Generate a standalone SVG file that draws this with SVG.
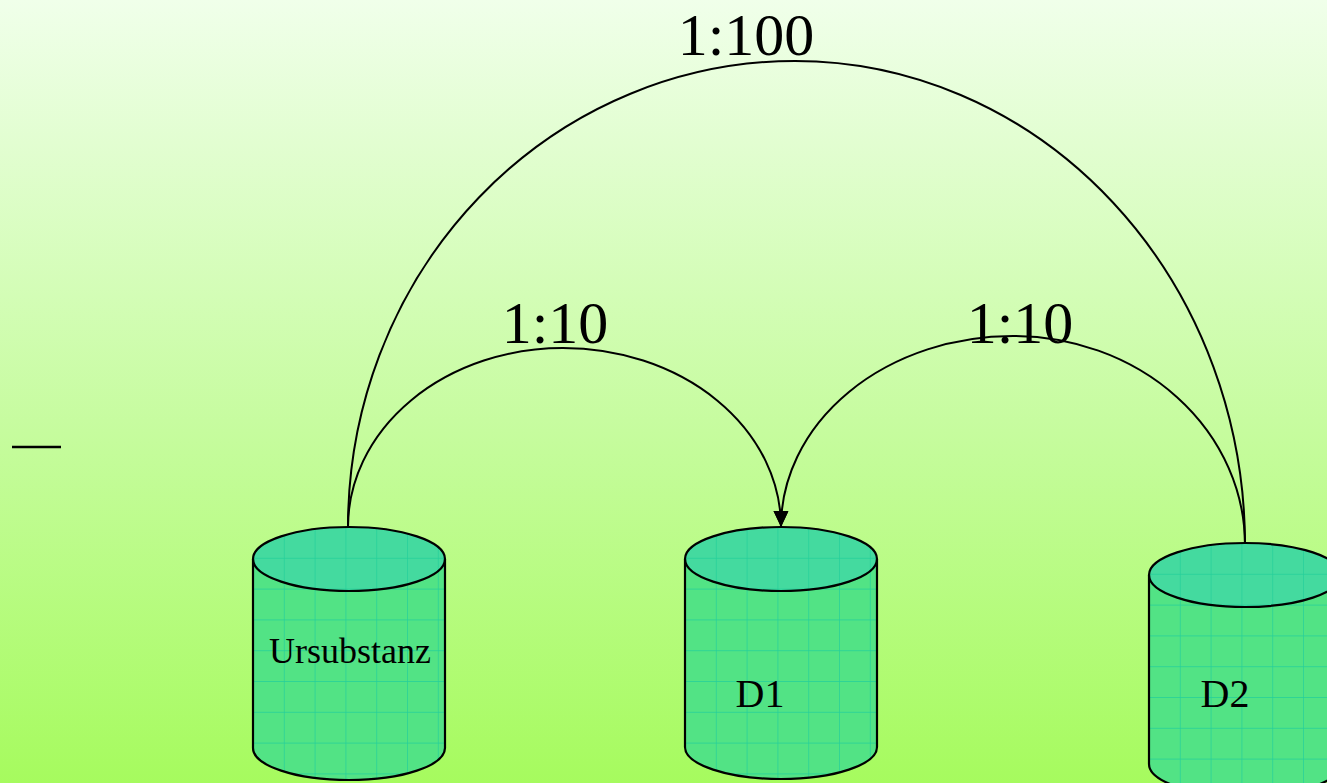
<svg xmlns="http://www.w3.org/2000/svg" width="1327" height="783" viewBox="0 0 1327 783">
<defs>
<linearGradient id="bg" x1="0" y1="0" x2="0" y2="1">
<stop offset="0" stop-color="#f0ffea"/>
<stop offset="0.55" stop-color="#c6fc9e"/>
<stop offset="1" stop-color="#a6fb5e"/>
</linearGradient>
<pattern id="grid" patternUnits="userSpaceOnUse" width="30.8" height="30.8">
<path d="M0,0 V30.8 M0,0 H30.8" fill="none" stroke="#24cf9a" stroke-width="1.4"/>
</pattern>
<marker id="arr" markerUnits="userSpaceOnUse" markerWidth="18" markerHeight="16" refX="16" refY="7.5" orient="auto">
<path d="M0,0 L16,7.5 L0,15 Z" fill="#000"/>
</marker>
</defs>
<style>
.body{fill:#52e385;stroke:none}
.top{fill:#44da9f;stroke:none}
.out{fill:none;stroke:#000;stroke-width:2.2}
.gridf{fill:url(#grid);stroke:none}
.lbl{fill:#000;text-anchor:middle}
.arc{fill:none;stroke:#000;stroke-width:2}
</style>
<rect x="0" y="0" width="1327" height="783" fill="url(#bg)"/>
<line x1="12" y1="447" x2="61" y2="447" stroke="#000" stroke-width="2.5"/>

<g id="connectors">
<path class="arc" d="M348,527 A447,466 0 0 1 795,61 A450,484 0 0 1 1245,545"/>
<path class="arc" d="M348,527 A215,179 0 0 1 563,348 A218,179 0 0 1 781,527" marker-end="url(#arr)"/>
<path class="arc" d="M1245,545 A232,209 0 0 0 1013,336 A232,191 0 0 0 781,527" marker-end="url(#arr)"/>
</g>

<g id="node-ursubstanz" transform="translate(253,527)">
<path class="body" d="M0,32 V221 A96,32 0 0 0 192,221 V32 Z"/>
<ellipse class="top" cx="96" cy="32" rx="96" ry="32"/>
<path class="gridf" d="M0,32 A96,32 0 0 1 192,32 V221 A96,32 0 0 1 0,221 Z"/>
<path class="out" d="M0,32 V221 A96,32 0 0 0 192,221 V32"/>
<ellipse class="out" cx="96" cy="32" rx="96" ry="32"/>
</g>
<g id="node-d1" transform="translate(685,527)">
<path class="body" d="M0,32 V220 A96,32 0 0 0 192,220 V32 Z"/>
<ellipse class="top" cx="96" cy="32" rx="96" ry="32"/>
<path class="gridf" d="M0,32 A96,32 0 0 1 192,32 V220 A96,32 0 0 1 0,220 Z"/>
<path class="out" d="M0,32 V220 A96,32 0 0 0 192,220 V32"/>
<ellipse class="out" cx="96" cy="32" rx="96" ry="32"/>
</g>
<g id="node-d2" transform="translate(1149,543)">
<path class="body" d="M0,32 V221 A96,32 0 0 0 192,221 V32 Z"/>
<ellipse class="top" cx="96" cy="32" rx="96" ry="32"/>
<path class="gridf" d="M0,32 A96,32 0 0 1 192,32 V221 A96,32 0 0 1 0,221 Z"/>
<path class="out" d="M0,32 V221 A96,32 0 0 0 192,221 V32"/>
<ellipse class="out" cx="96" cy="32" rx="96" ry="32"/>
</g>

<g id="labels" font-family="'Liberation Serif', 'DejaVu Serif', serif">
<text class="lbl" x="350" y="663" font-size="36">Ursubstanz</text>
<text class="lbl" x="760" y="707" font-size="40">D1</text>
<text class="lbl" x="1225" y="707" font-size="40">D2</text>
<text class="lbl" x="746" y="55" font-size="60">1:100</text>
<text class="lbl" x="555" y="343" font-size="60">1:10</text>
<text class="lbl" x="1020" y="343" font-size="60">1:10</text>
</g>
</svg>
